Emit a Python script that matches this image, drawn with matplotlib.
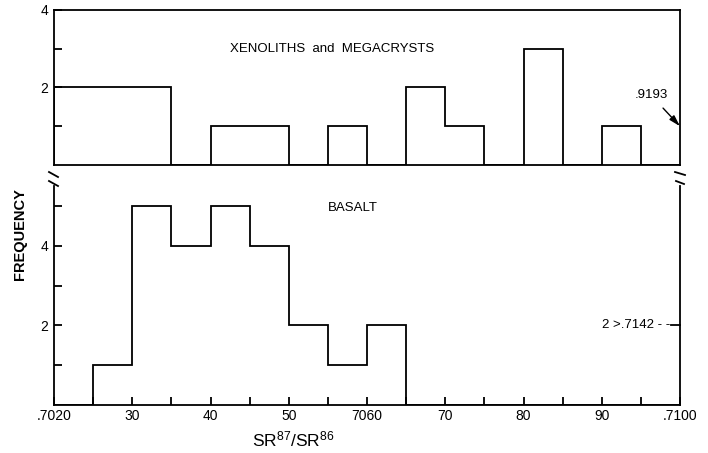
import matplotlib
matplotlib.use("Agg")
import matplotlib.pyplot as plt
from matplotlib.lines import Line2D

plt.rcParams["font.family"] = ["Liberation Sans", "DejaVu Sans"]

# Sr87/Sr86 bin edges (x 1e-4, i.e. 7020 = .7020)
bin_edges = [7020, 7025, 7030, 7035, 7040, 7045, 7050, 7055, 7060,
             7065, 7070, 7075, 7080, 7085, 7090, 7095, 7100]

# frequency per bin
xenolith_counts = [2, 2, 2, 0, 1, 1, 0, 1, 0, 2, 1, 0, 3, 0, 1, 0]
basalt_counts = [0, 1, 5, 4, 5, 4, 2, 1, 2, 0, 0, 0, 0, 0, 0, 0]

# bottom axis labels
x_ticks = [7020, 7025, 7030, 7035, 7040, 7045, 7050, 7055, 7060,
           7065, 7070, 7075, 7080, 7085, 7090, 7095, 7100]
x_labels = [".7020", "", "30", "", "40", "", "50", "", "7060",
            "", "70", "", "80", "", "90", "", ".7100"]

W, H = 708, 453
LW = 1.3


def box(x0, y0, x1, y1):
    # pixel box (top-left origin) -> figure fraction rect
    return [x0 / W, 1 - y1 / H, (x1 - x0) / W, (y1 - y0) / H]


def fig_line(fig, x0, y0, x1, y1):
    fig.add_artist(Line2D([x0 / W, x1 / W], [1 - y0 / H, 1 - y1 / H],
                          transform=fig.transFigure, color="black", lw=LW))


fig = plt.figure(figsize=(W / 100, H / 100), dpi=100)

# upper panel: xenoliths and megacrysts
ax1 = fig.add_axes(box(54, 10, 680, 165))
ax1.stairs(xenolith_counts, bin_edges, color="black", lw=LW, baseline=0)
ax1.set_xlim(7020, 7100)
ax1.set_ylim(0, 4)
ax1.set_xticks([])
ax1.set_yticks([1, 2, 3, 4])
ax1.set_yticklabels(["", "2", "", "4"])
ax1.tick_params(axis="y", direction="in", length=6, width=LW, pad=4, labelsize=10)
for s in ax1.spines.values():
    s.set_linewidth(LW)
ax1.text(7042.5, 3.0, "XENOLITHS  and  MEGACRYSTS", fontsize=9.5, va="center")
ax1.annotate(".9193", xy=(7100, 1), xytext=(7096.3, 1.8),
             fontsize=9.5, ha="center", va="center",
             arrowprops=dict(arrowstyle="-|>,head_length=0.7,head_width=0.2",
                             color="black", lw=1.0, shrinkA=4, shrinkB=0))

# lower panel: basalt
ax2 = fig.add_axes(box(54, 186, 680, 405))
ax2.stairs(basalt_counts, bin_edges, color="black", lw=LW, baseline=0)
ax2.set_xlim(7020, 7100)
ax2.set_ylim(0, 5.5)
ax2.spines["top"].set_visible(False)
for s in ax2.spines.values():
    s.set_linewidth(LW)
ax2.set_yticks([1, 2, 3, 4, 5])
ax2.set_yticklabels(["", "2", "", "4", ""])
ax2.set_xticks(x_ticks)
ax2.set_xticklabels(x_labels)
ax2.tick_params(axis="both", direction="in", length=6, width=LW, labelsize=10)
ax2.tick_params(axis="y", pad=4)
ax2.tick_params(axis="x", pad=3)
ax2.text(7055, 4.95, "BASALT", fontsize=9.5, va="center")
ax2.text(7098.8, 2, "2 >.7142 - -", fontsize=9.5, ha="right", va="center")
ax2.plot([7098.9, 7100], [2, 2], color="black", lw=LW, clip_on=False)

# axis break marks
fig_line(fig, 49, 172, 58, 177)
fig_line(fig, 49, 181, 58, 186)
fig_line(fig, 675, 172, 685, 175)
fig_line(fig, 676, 181, 684, 184)

fig.text(20 / W, 1 - 234 / H, "FREQUENCY", rotation=90, fontsize=10.5,
         fontweight="bold", ha="center", va="center")
fig.text(293 / W, 1 - 439 / H, r"$\mathregular{SR^{87}/SR^{86}}$",
         fontsize=12.5, ha="center", va="center")

fig.savefig("out.png", dpi=100)
